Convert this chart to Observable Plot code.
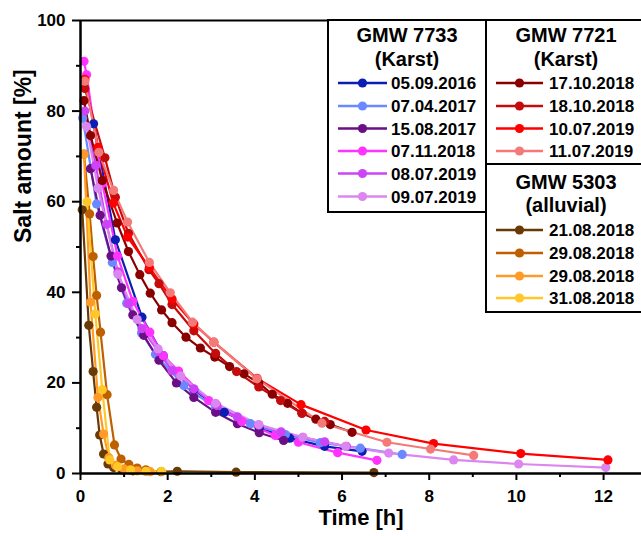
<!DOCTYPE html>
<html>
<head>
<meta charset="utf-8">
<script src="https://cdn.jsdelivr.net/npm/d3@7"></script>
<script src="https://cdn.jsdelivr.net/npm/@observablehq/plot@0.6"></script>
<style>
  body { margin: 0; background: white; }
</style>
</head>
<body>
<div id="chart"></div>
<script>
// ---------- DATA ----------
// GMW 7733 (Karst)
const t_050916 = [0.3, 0.8, 1.41, 1.9, 2.6, 3.3, 4.1, 4.8, 5.6, 6.46];
const v_050916 = [77.2, 51.6, 34.5, 26, 18.5, 13.5, 10, 7.8, 6, 4.9];
const t_070417 = [0.05, 0.37, 0.73, 1.06, 1.4, 1.72, 2.37, 3.1, 3.9, 4.7, 5.5, 6.42, 7.38];
const v_070417 = [78.5, 59.5, 46.6, 37.6, 31, 26.3, 19.4, 14.5, 11, 8.6, 6.8, 5.6, 4.2];
const t_150817 = [0.23, 0.45, 0.7, 0.94, 1.2, 1.45, 1.8, 2.2, 2.6, 3.1, 3.6, 4.1, 4.66];
const v_150817 = [67.3, 57, 48, 41, 35, 30.5, 25, 20, 16.8, 13.5, 11, 9, 7.3];
const t_071118 = [0.08, 0.14, 0.5, 0.85, 1.2, 1.59, 1.9, 2.25, 2.94, 3.7, 4.47, 5.0, 5.9, 6.8];
const v_071118 = [91, 88, 64, 48, 38, 31.2, 26, 22.6, 16.1, 11.5, 8.4, 6.9, 4.6, 2.9];
const t_080719 = [0.1, 0.35, 0.6, 0.86, 1.1, 1.41, 1.78, 2.1, 2.6, 3.13, 3.6, 4.09, 4.6, 5.1, 5.6, 6.1];
const v_080719 = [80, 68, 55, 44.5, 37.5, 32, 27, 22.7, 18.7, 15, 12.5, 10.7, 9.2, 8, 7, 6];
const t_090719 = [0.14, 0.4, 0.86, 1.3, 1.78, 2.3, 3.1, 4.09, 5.1, 6.08, 7.07, 8.56, 10.05, 12.05];
const v_090719 = [76.6, 63, 44, 34, 27.5, 21.5, 15.5, 10.8, 8, 6, 4.5, 3.0, 2.1, 1.3];
// GMW 7721 (Karst)
const t_171018 = [0.08, 0.23, 0.5, 0.84, 1.1, 1.36, 1.6, 1.86, 2.1, 2.42, 2.75, 3.08, 3.42, 3.75, 4.09, 4.4, 4.75, 5.08, 5.4, 5.73, 6.23];
const v_171018 = [82.3, 74.6, 64.7, 55.3, 49, 43.9, 39.8, 36.1, 33.3, 30.1, 27.7, 25.7, 23.6, 22, 20, 17.5, 15.5, 13.3, 12, 10.8, 9.1];
const t_181018 = [0.1, 0.56, 0.8, 1.1, 1.57, 1.8, 2.1, 2.6, 3.1, 3.58, 4.09, 4.59, 5.08, 5.6];
const v_181018 = [85, 69.7, 61, 53, 45, 41.9, 37.3, 31.5, 26.5, 22.5, 19.1, 16.1, 13.3, 11.5];
const t_100719 = [0.1, 0.4, 0.75, 1.08, 1.58, 2.1, 2.6, 3.06, 4.05, 5.06, 6.55, 8.1, 10.1, 12.1];
const v_100719 = [87, 72, 59.7, 52.2, 45.5, 38.5, 33, 29, 21, 15.2, 9.6, 6.6, 4.4, 3.0];
const t_110719 = [0.1, 0.42, 0.76, 1.08, 1.58, 2.06, 2.57, 3.06, 4.05, 5.54, 7.03, 8.03, 9.02];
const v_110719 = [86.6, 70.9, 62.5, 55.5, 46.6, 39.9, 33.4, 29, 20.9, 11.1, 6.9, 5.4, 4.0];
// GMW 5303 (alluvial)
const t_210818 = [0.04, 0.19, 0.29, 0.37, 0.44, 0.53, 0.63, 0.76, 0.95, 1.2, 1.5, 1.85, 2.22, 3.57, 6.73];
const v_210818 = [58.2, 32.7, 22.5, 14.6, 8.5, 4.3, 2.1, 1.3, 0.8, 0.6, 0.5, 0.4, 0.5, 0.3, 0.2];
const t_290818a = [0.08, 0.21, 0.29, 0.37, 0.46, 0.61, 0.78, 0.93, 1.11, 1.3, 1.5];
const v_290818a = [70.5, 57.3, 47.9, 39.3, 31.2, 17.4, 6.3, 3.2, 2.0, 1.2, 0.8];
const t_290818b = [0.08, 0.23, 0.4, 0.53, 0.65, 0.8, 1.0, 1.3, 1.6];
const v_290818b = [70.5, 37.8, 16.8, 8.7, 3.5, 1.8, 1.0, 0.6, 0.4];
const t_310818 = [0.15, 0.34, 0.5, 0.67, 0.85, 1.15, 1.5, 1.86];
const v_310818 = [60, 35.2, 18.5, 3.0, 1.5, 0.8, 0.5, 0.5];

const groupTitles = [["GMW 7733", "(Karst)"], ["GMW 7721", "(Karst)"], ["GMW 5303", "(alluvial)"]];
const seriesIds = ["a1","a2","a3","a4","a5","a6","b1","b2","b3","b4","c1","c2","c3","c4"];
const seriesLabels = ["05.09.2016","07.04.2017","15.08.2017","07.11.2018","08.07.2019","09.07.2019",
                      "17.10.2018","18.10.2018","10.07.2019","11.07.2019",
                      "21.08.2018","29.08.2018","29.08.2018","31.08.2018"];
const seriesGroup = [0,0,0,0,0,0,1,1,1,1,2,2,2,2];
const seriesT = [t_050916,t_070417,t_150817,t_071118,t_080719,t_090719,t_171018,t_181018,t_100719,t_110719,t_210818,t_290818a,t_290818b,t_310818];
const seriesV = [v_050916,v_070417,v_150817,v_071118,v_080719,v_090719,v_171018,v_181018,v_100719,v_110719,v_210818,v_290818a,v_290818b,v_310818];
const xMajor = [0, 2, 4, 6, 8, 10, 12];
const xMinor = [1, 3, 5, 7, 9, 11];
const yMajor = [0, 20, 40, 60, 80, 100];
const yMinor = [10, 30, 50, 70, 90];

// ---------- STYLE ----------
const seriesColors = ["#0a1eb4","#6a88ff","#6a0f85","#ff33ff","#cc44f5","#dc86f0",
                      "#8a0000","#c40c0c","#ff0000","#f47a7a",
                      "#683a05","#bf6000","#ff9a26","#ffc828"];

// build table (drawing order: alluvial, 7733, 7721)
const order = [10,11,12,13,0,1,2,3,4,5,6,7,8,9];
const data = [];
for (const i of order) {
  seriesT[i].forEach((t, k) => data.push({id: seriesIds[i], t, v: seriesV[i][k]}));
}

const font = "'Liberation Sans', Arial, Helvetica, sans-serif";

const svg = Plot.plot({
  width: 641, height: 536,
  marginLeft: 80, marginRight: 0, marginTop: 20, marginBottom: 63,
  x: {domain: [0, 12.87]},
  y: {domain: [0, 100]},
  color: {domain: seriesIds, range: seriesColors},
  style: {fontFamily: font, fontWeight: "bold", fontSize: "17px", color: "black", background: "white"},
  marks: [
    Plot.line(data, {x: "t", y: "v", z: "id", stroke: "id", strokeWidth: 2.2}),
    Plot.dot(data, {x: "t", y: "v", fill: "id", r: 4.6}),
    Plot.axisX({ticks: xMajor, tickSize: 7, tickPadding: 9, tickFormat: d => String(d), label: null, strokeWidth: 2}),
    Plot.axisX({ticks: xMinor, tickSize: 4, tickFormat: () => "", label: null, strokeWidth: 2}),
    Plot.axisY({ticks: yMajor, tickSize: 8, tickPadding: 7, tickFormat: d => String(d), label: null, strokeWidth: 2}),
    Plot.axisY({ticks: yMinor, tickSize: 4, tickFormat: () => "", label: null, strokeWidth: 2}),
    Plot.ruleY([0], {strokeWidth: 2.5}),
    Plot.ruleY([100], {strokeWidth: 2}),
    Plot.ruleX([0], {strokeWidth: 2.5}),
    Plot.text(["Time [h]"], {frameAnchor: "bottom", dy: 51, text: d => d, fontSize: 22, fontWeight: "bold"}),
    Plot.text(["Salt amount [%]"], {frameAnchor: "left", dx: -57, dy: -4, rotate: -90, text: d => d, fontSize: 23, fontWeight: "bold"})
  ]
});

// ---------- LEGEND ----------
const g = d3.select(svg).append("g")
  .attr("font-family", font).attr("font-weight", "bold").attr("text-anchor", "start");
const boxes = [
  {x: 328, y: 20, w: 158, h: 192, cx: 407, lineX: [338, 387], textX: 391, titleY: [35, 59], rowY: [83, 106, 128.5, 151, 173.5, 196.5]},
  {x: 486, y: 20, w: 200, h: 144, cx: 566, lineX: [496, 543], textX: 549, titleY: [35, 59], rowY: [83, 106, 128.5, 151]},
  {x: 486, y: 164, w: 200, h: 148, cx: 566, lineX: [496, 543], textX: 549, titleY: [182, 205], rowY: [230, 253, 276, 298]}
];
boxes.forEach((b, gi) => {
  g.append("rect").attr("x", b.x).attr("y", b.y).attr("width", b.w).attr("height", b.h)
    .attr("fill", "white").attr("stroke", "black").attr("stroke-width", 2);
  groupTitles[gi].forEach((s, li) => {
    g.append("text").attr("x", b.cx).attr("y", b.titleY[li]).attr("dy", "0.35em")
      .attr("text-anchor", "middle").attr("font-size", 20).attr("font-weight", "bold").text(s);
  });
  const members = seriesIds.map((id, i) => i).filter(i => seriesGroup[i] === gi);
  members.forEach((i, r) => {
    const y = b.rowY[r];
    const c = seriesColors[i];
    g.append("line").attr("x1", b.lineX[0]).attr("x2", b.lineX[1]).attr("y1", y).attr("y2", y)
      .attr("stroke", c).attr("stroke-width", 2.5);
    g.append("circle").attr("cx", (b.lineX[0] + b.lineX[1]) / 2).attr("cy", y).attr("r", 4.6).attr("fill", c);
    g.append("text").attr("x", b.textX).attr("y", y).attr("dy", "0.36em")
      .attr("text-anchor", "start").attr("font-size", 17).attr("font-weight", "bold").text(seriesLabels[i]);
  });
});

document.getElementById("chart").appendChild(svg);
</script>
</body>
</html>
